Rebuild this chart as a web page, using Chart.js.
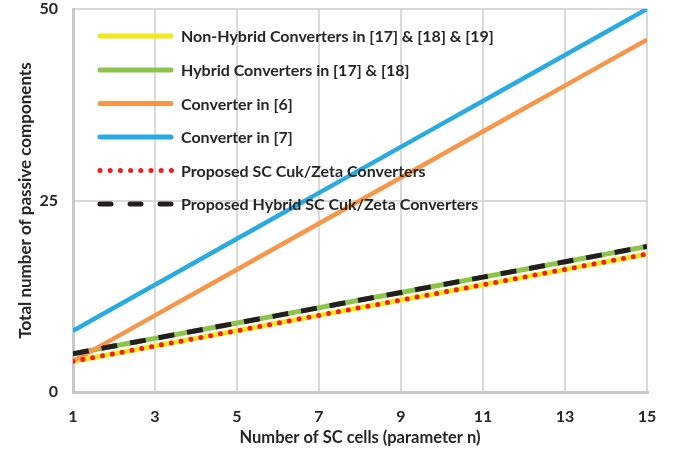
<!DOCTYPE html>
<html>
<head>
<meta charset="utf-8">
<script src="https://cdn.jsdelivr.net/npm/chart.js@4/dist/chart.umd.min.js"></script>
<style>
  html, body { margin: 0; padding: 0; background: #ffffff; }
  #wrap { width: 679px; height: 460px; position: relative; }
</style>
</head>
<body>
<div id="wrap"><canvas id="c" width="679" height="460"></canvas></div>
<script>
// ---- data ----
const nValues = [1, 2, 3, 4, 5, 6, 7, 8, 9, 10, 11, 12, 13, 14, 15];
const nonHybridConv = [4, 5, 6, 7, 8, 9, 10, 11, 12, 13, 14, 15, 16, 17, 18];
const hybridConv = [5, 6, 7, 8, 9, 10, 11, 12, 13, 14, 15, 16, 17, 18, 19];
const converter6 = [4, 7, 10, 13, 16, 19, 22, 25, 28, 31, 34, 37, 40, 43, 46];
const converter7 = [8, 11, 14, 17, 20, 23, 26, 29, 32, 35, 38, 41, 44, 47, 50];
const proposedSC = [4, 5, 6, 7, 8, 9, 10, 11, 12, 13, 14, 15, 16, 17, 18];
const proposedHybridSC = [5, 6, 7, 8, 9, 10, 11, 12, 13, 14, 15, 16, 17, 18, 19];
const seriesNames = [
  'Non-Hybrid Converters in [17] & [18] & [19]',
  'Hybrid Converters in [17] & [18]',
  'Converter in [6]',
  'Converter in [7]',
  'Proposed SC Cuk/Zeta Converters',
  'Proposed Hybrid SC Cuk/Zeta Converters'
];
const xTicks = [1, 3, 5, 7, 9, 11, 13, 15];
const yTicks = [0, 25, 50];
const xTitle = 'Number of SC cells (parameter n)';
const yTitle = 'Total number of passive components';

const TEXT = '#262626';
const FONT = 'Lato, "Open Sans", sans-serif';

function pts(arr) { return arr.map((v, i) => ({ x: nValues[i], y: v })); }

const styles = [
  { color: '#F4E619', width: 5, dash: [], cap: 'butt', order: 3 },
  { color: '#8DC44C', width: 5, dash: [], cap: 'butt', order: 3 },
  { color: '#F7964A', width: 4.5, dash: [], cap: 'butt', order: 2 },
  { color: '#29ABE2', width: 4.5, dash: [], cap: 'butt', order: 2 },
  { color: '#F21C1C', width: 5, dash: [0, 10], cap: 'round', order: 1 },
  { color: '#231F20', width: 5, dash: [16, 13], cap: 'butt', order: 1 }
];
const seriesData = [nonHybridConv, hybridConv, converter6, converter7, proposedSC, proposedHybridSC];

const datasets = seriesData.map((d, i) => ({
  label: seriesNames[i],
  data: pts(d),
  borderColor: styles[i].color,
  backgroundColor: styles[i].color,
  borderWidth: styles[i].width,
  borderDash: styles[i].dash,
  borderCapStyle: styles[i].cap,
  pointRadius: 0,
  pointHoverRadius: 0,
  tension: 0,
  fill: false,
  order: styles[i].order
}));

const legendPlugin = {
  id: 'insideLegend',
  afterDraw(chart) {
    const ctx = chart.ctx;
    const x0 = 98, x1 = 173, textX = 181;
    const rows = [36, 70, 103.5, 137, 170.5, 204];
    ctx.save();
    datasets.forEach((ds, i) => {
      const y = rows[i];
      const st = styles[i];
      ctx.strokeStyle = st.color;
      ctx.fillStyle = st.color;
      if (i === 4) {
        for (let k = 0; k < 8; k++) {
          ctx.beginPath();
          ctx.arc(100 + k * 10.2, y, 2.5, 0, Math.PI * 2);
          ctx.fill();
        }
      } else if (i === 5) {
        ctx.lineWidth = 5;
        ctx.lineCap = 'round';
        for (let k = 0; k < 3; k++) {
          ctx.beginPath();
          ctx.moveTo(100 + k * 30, y);
          ctx.lineTo(111 + k * 30, y);
          ctx.stroke();
        }
      } else {
        ctx.lineWidth = 5;
        ctx.lineCap = 'round';
        ctx.beginPath();
        ctx.moveTo(x0 + 2, y);
        ctx.lineTo(x1 - 2, y);
        ctx.stroke();
      }
      ctx.fillStyle = TEXT;
      ctx.font = 'bold 16px ' + FONT;
      ctx.textBaseline = 'middle';
      ctx.textAlign = 'left';
      ctx.fillText(ds.label, textX, y + 1);
    });
    ctx.restore();
  }
};

new Chart(document.getElementById('c'), {
  type: 'line',
  data: { datasets },
  plugins: [legendPlugin],
  options: {
    responsive: false,
    animation: false,
    events: [],
    layout: { padding: { top: 9, right: 32, left: 0, bottom: 0 } },
    plugins: { legend: { display: false }, tooltip: { enabled: false } },
    scales: {
      x: {
        type: 'linear',
        min: 1, max: 15,
        afterBuildTicks: (s) => { s.ticks = xTicks.map(v => ({ value: v })); },
        afterFit: (s) => { s.height = 68; s.paddingLeft = 0; s.paddingRight = 0; },
        ticks: { color: TEXT, font: { family: FONT, size: 16, weight: 'bold' }, padding: 15, maxRotation: 0, autoSkip: false },
        grid: {
          drawTicks: false,
          color: (c) => c.tick && c.tick.value === 1 ? '#C8C8C8' : '#DADADA',
          lineWidth: (c) => c.tick && c.tick.value === 1 ? 3 : 2
        },
        border: { display: true, color: '#C8C8C8', width: 3 },
        title: { display: true, text: xTitle, color: TEXT, font: { family: FONT, size: 16.5, weight: 'bold' }, padding: { top: 0, bottom: 12 } }
      },
      y: {
        min: 0, max: 50,
        afterBuildTicks: (s) => { s.ticks = yTicks.map(v => ({ value: v })); },
        afterFit: (s) => { s.width = 73; s.paddingTop = 0; s.paddingBottom = 0; },
        ticks: { color: TEXT, font: { family: FONT, size: 16, weight: 'bold' }, padding: 15 },
        grid: {
          drawTicks: false,
          color: (c) => c.tick && c.tick.value === 0 ? '#C8C8C8' : '#DADADA',
          lineWidth: (c) => c.tick && c.tick.value === 0 ? 3 : 2
        },
        border: { display: true, color: '#C8C8C8', width: 3 },
        title: { display: true, text: yTitle, color: TEXT, font: { family: FONT, size: 17, weight: 'bold' }, padding: { top: 15, bottom: 0 } }
      }
    }
  }
});
</script>
</body>
</html>
